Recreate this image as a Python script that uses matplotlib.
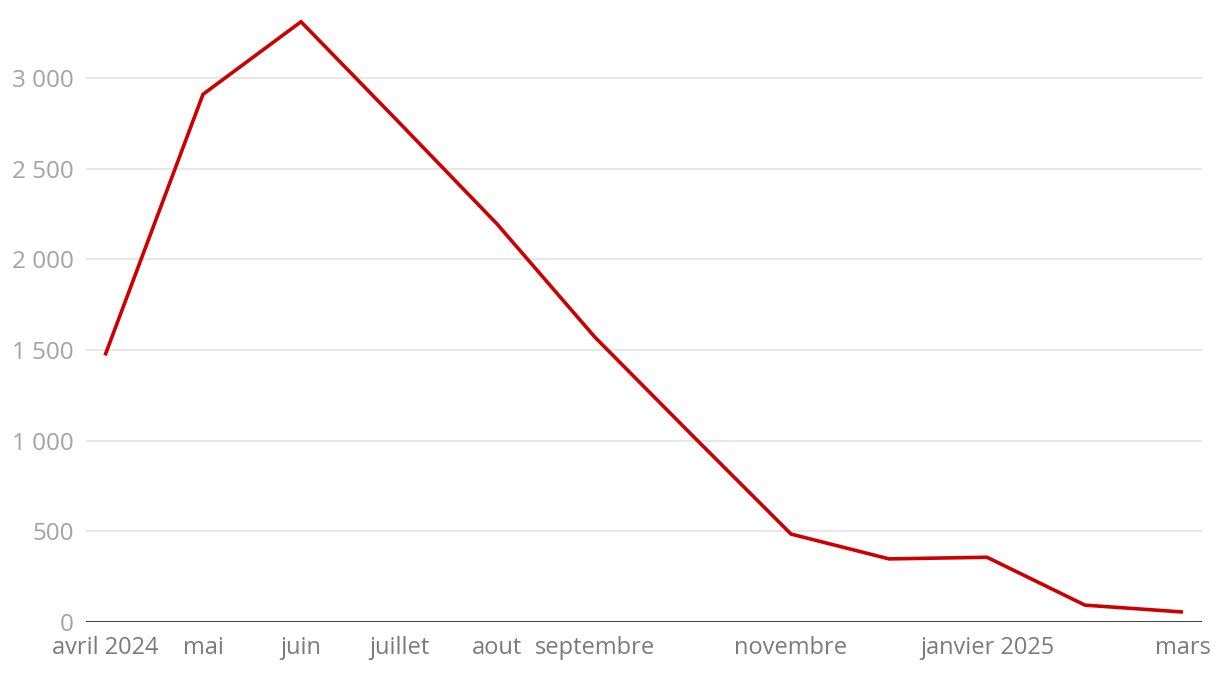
import numpy as np
import matplotlib.pyplot as plt
from matplotlib.ticker import FuncFormatter

# Données mensuelles (avril 2024 - mars 2025)
mois = ["avril 2024", "mai", "juin", "juillet", "aout", "septembre",
        "octobre", "novembre", "décembre", "janvier 2025", "février", "mars"]
# libellés affichés sur l'axe (certains sont masqués dans l'original)
mois_affiches = ["avril 2024", "mai", "juin", "juillet", "aout", "septembre",
                 "", "novembre", "", "janvier 2025", "", "mars"]
valeurs = [1470, 2910, 3310, 2755, 2195, 1570, 1025, 485, 348, 357, 93, 55]
yticks = [0, 500, 1000, 1500, 2000, 2500, 3000]

plt.rcParams['font.family'] = ['Open Sans', 'DejaVu Sans']

fig = plt.figure(figsize=(12.2, 6.74), dpi=100)
ax = fig.add_axes([86 / 1220, 52 / 674, 1116 / 1220, 622 / 674])

x = np.arange(len(mois))
ax.plot(x, valeurs, color='#cc0000', linewidth=2.6, solid_joinstyle='miter',
        solid_capstyle='butt', zorder=3)

ax.set_xlim(-0.194, len(mois) - 1 + 0.194)
ax.set_ylim(0, 3430)

ax.set_yticks(yticks)
ax.yaxis.set_major_formatter(FuncFormatter(lambda v, p: f"{int(v):,}".replace(",", " ")))
ax.grid(axis='y', color='#e3e3e3', linewidth=1.2, zorder=0)
ax.axhline(0, color='#333333', linewidth=2, zorder=4)

ax.set_xticks(x)
ax.set_xticklabels(mois_affiches)

for s in ax.spines.values():
    s.set_visible(False)

ax.tick_params(axis='y', length=0, pad=9, labelsize=17.5, labelcolor='#a3a3a3')
ax.tick_params(axis='x', length=0, pad=10, labelsize=17, labelcolor='#7a7a7a')

fig.savefig('out.png', dpi=100)
